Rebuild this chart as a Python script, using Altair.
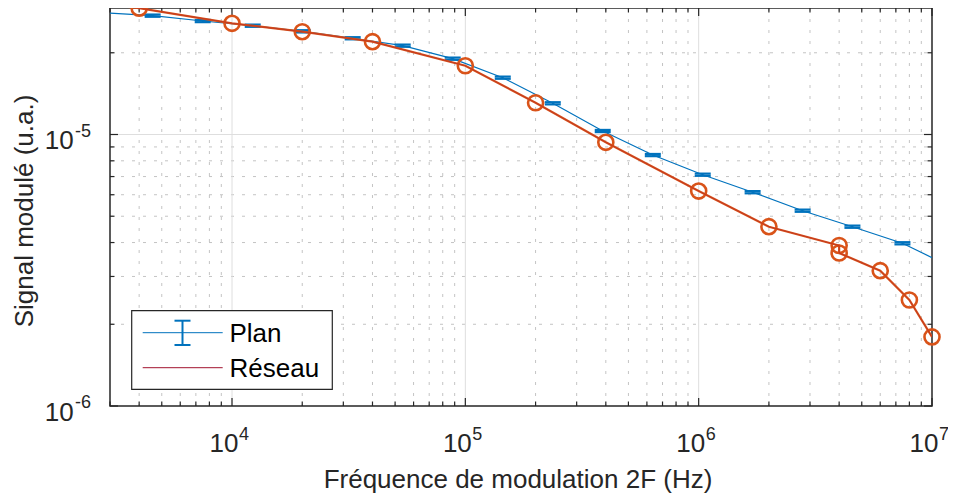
import altair as alt
import pandas as pd

# ---------------- data ----------------
plan_f = [4.57e3, 7.49e3, 1.227e4, 2.01e4, 3.29e4, 5.39e4, 8.83e4, 1.447e5,
          2.37e5, 3.88e5, 6.36e5, 1.041e6, 1.703e6, 2.79e6, 4.56e6, 7.47e6]
plan_s = [2.74e-5, 2.618e-5, 2.516e-5, 2.399e-5, 2.262e-5, 2.124e-5, 1.902e-5, 1.619e-5,
          1.303e-5, 1.030e-5, 8.40e-6, 7.11e-6, 6.13e-6, 5.24e-6, 4.575e-6, 3.975e-6]
plan_err = [2.6e-7, 2.5e-7, 2.4e-7, 2.3e-7, 2.1e-7, 2.0e-7, 1.8e-7, 1.5e-7,
            1.2e-7, 9.5e-8, 7.8e-8, 6.6e-8, 5.7e-8, 4.9e-8, 4.3e-8, 3.7e-8]
# smooth "Plan" curve (spans the whole axis)
plan_line_f = [3e3] + plan_f + [1e7]
plan_line_s = [2.80e-5] + plan_s + [3.52e-6]

reseau_f = [4e3, 1e4, 2e4, 4e4, 1e5, 2e5, 4e5, 1e6, 2e6, 4e6, 4e6, 6e6, 8e6, 1e7]
reseau_s = [2.92e-5, 2.568e-5, 2.391e-5, 2.197e-5, 1.792e-5, 1.309e-5, 9.36e-6,
            6.19e-6, 4.575e-6, 3.90e-6, 3.66e-6, 3.15e-6, 2.457e-6, 1.796e-6]
reseau_line_f = [3e3] + reseau_f
reseau_line_s = [3.0e-5] + reseau_s

x_major = [1e4, 1e5, 1e6, 1e7]
x_major_exp = ["4", "5", "6", "7"]
x_minor = [3e3, 4e3, 5e3, 6e3, 7e3, 8e3, 9e3,
           2e4, 3e4, 4e4, 5e4, 6e4, 7e4, 8e4, 9e4,
           2e5, 3e5, 4e5, 5e5, 6e5, 7e5, 8e5, 9e5,
           2e6, 3e6, 4e6, 5e6, 6e6, 7e6, 8e6, 9e6]
y_major = [1e-6, 1e-5]
y_major_exp = ["-6", "-5"]
y_minor = [2e-6, 3e-6, 4e-6, 5e-6, 6e-6, 7e-6, 8e-6, 9e-6, 2e-5]

legend_labels = ["Plan", "Réseau"]
x_title = "Fréquence de modulation 2F (Hz)"
y_title = "Signal modulé (u.a.)"

# ---------------- layout / style ----------------
W, H = 822, 398
YMAX = 10 ** (-6 + H / 271.5)
FONT = "Liberation Sans"
BLUE = "#0072BD"
ORANGE = "#D95319"
BURGUNDY = "#A2142F"
AX = "#262626"

xs = alt.Scale(type="log", domain=[3e3, 1e7], nice=False)
ys = alt.Scale(type="log", domain=[1e-6, YMAX], nice=False)


def X(field):
    return alt.X(field, type="quantitative", scale=xs, axis=None)


def Y(field):
    return alt.Y(field, type="quantitative", scale=ys, axis=None)


one = pd.DataFrame({"k": [0]})


def vrules(vals, y0, y1, **mk):
    return alt.Chart(pd.DataFrame({"f": vals})).mark_rule(**mk).encode(
        x=X("f"), y=alt.value(y0), y2=alt.value(y1))


def hrules(vals, x0, x1, **mk):
    return alt.Chart(pd.DataFrame({"s": vals})).mark_rule(**mk).encode(
        y=Y("s"), x=alt.value(x0), x2=alt.value(x1))


layers = []
# grid
minor_style = dict(color="#C4C4C4", strokeWidth=1, strokeDash=[3, 8])
major_style = dict(color="#DEDEDE", strokeWidth=1)
layers += [vrules(x_minor[1:], 0, H, **minor_style), hrules(y_minor, 0, W, **minor_style),
           vrules(x_major[:-1], 0, H, **major_style), hrules(y_major[1:], 0, W, **major_style)]

# box
layers.append(alt.Chart(one).mark_rect(fillOpacity=0, stroke=AX, strokeWidth=1.5).encode(
    x=alt.value(0), x2=alt.value(W), y=alt.value(0), y2=alt.value(H)))

# inward ticks on all four sides
tk = dict(color=AX, strokeWidth=1.2)
LMAJ, LMIN = 8, 4.5
layers += [
    vrules(x_major, H, H - LMAJ, **tk), vrules(x_minor, H, H - LMIN, **tk),
    vrules(x_major, 0, LMAJ, **tk), vrules(x_minor, 0, LMIN, **tk),
    hrules(y_major, 0, LMAJ, **tk), hrules(y_minor, 0, LMIN, **tk),
    hrules(y_major, W, W - LMAJ, **tk), hrules(y_minor, W, W - LMIN, **tk),
]

# Plan: smooth curve + error bars
plan_df = pd.DataFrame({"f": plan_f, "s": plan_s, "e": plan_err})
plan_df["lo"] = plan_df["s"] - plan_df["e"]
plan_df["hi"] = plan_df["s"] + plan_df["e"]
layers.append(alt.Chart(pd.DataFrame({"f": plan_line_f, "s": plan_line_s})).mark_line(
    color=BLUE, strokeWidth=1.2, clip=True).encode(x=X("f"), y=Y("s")))
layers.append(alt.Chart(plan_df).mark_rule(color=BLUE, strokeWidth=1.5).encode(
    x=X("f"), y=Y("lo"), y2="hi"))
for col in ["lo", "hi"]:
    layers.append(alt.Chart(plan_df).mark_tick(orient="horizontal", size=16, thickness=2.2,
                                               color=BLUE, opacity=1).encode(x=X("f"), y=Y(col)))

# Réseau: orange line with circles + thin burgundy line
rl = pd.DataFrame({"f": reseau_line_f, "s": reseau_line_s})
layers.append(alt.Chart(rl).mark_line(color=ORANGE, strokeWidth=2.2, clip=True).encode(
    x=X("f"), y=Y("s")))
layers.append(alt.Chart(pd.DataFrame({"f": reseau_f, "s": reseau_s})).mark_point(
    shape="circle", size=227, filled=False, color=ORANGE, strokeWidth=2.6, opacity=1).encode(
    x=X("f"), y=Y("s")))
layers.append(alt.Chart(rl).mark_line(color=BURGUNDY, strokeWidth=1, opacity=0.4, clip=True).encode(
    x=X("f"), y=Y("s")))

# tick labels: 10 with superscript exponent
xl = pd.DataFrame({"f": x_major, "e": x_major_exp})
layers.append(alt.Chart(xl).mark_text(align="right", baseline="alphabetic", dx=6.5, fontSize=26,
                                      font=FONT, color=AX).encode(
    x=X("f"), y=alt.value(H + 45.7), text=alt.value("10")))
layers.append(alt.Chart(xl).mark_text(align="left", baseline="alphabetic", dx=7, fontSize=18,
                                      font=FONT, color=AX).encode(
    x=X("f"), y=alt.value(H + 34), text="e:N"))
yl = pd.DataFrame({"s": y_major, "e": y_major_exp})
layers.append(alt.Chart(yl).mark_text(align="right", baseline="alphabetic", dy=14.8, fontSize=26,
                                      font=FONT, color=AX).encode(
    y=Y("s"), x=alt.value(-36.3), text=alt.value("10")))
layers.append(alt.Chart(yl).mark_text(align="left", baseline="alphabetic", dy=2.2, fontSize=18,
                                      font=FONT, color=AX).encode(
    y=Y("s"), x=alt.value(-35), text="e:N"))

# axis titles
layers.append(alt.Chart(one).mark_text(align="center", baseline="alphabetic", fontSize=26,
                                       font=FONT, color=AX).encode(
    x=alt.value(408), y=alt.value(H + 82.3), text=alt.value(x_title)))
layers.append(alt.Chart(one).mark_text(align="center", baseline="alphabetic", angle=270, fontSize=26,
                                       font=FONT, color=AX).encode(
    x=alt.value(-77.5), y=alt.value(203), text=alt.value(y_title)))

# legend
layers.append(alt.Chart(one).mark_rect(fill="white", stroke=AX, strokeWidth=1.2).encode(
    x=alt.value(21.7), x2=alt.value(222.3), y=alt.value(302.7), y2=alt.value(381.3)))
layers.append(alt.Chart(one).mark_rule(color=BLUE, strokeWidth=1).encode(
    x=alt.value(32.7), x2=alt.value(112.7), y=alt.value(324.7)))
layers.append(alt.Chart(one).mark_rule(color=BLUE, strokeWidth=2).encode(
    x=alt.value(72.5), y=alt.value(312.7), y2=alt.value(337)))
for yy in [312.7, 337]:
    layers.append(alt.Chart(one).mark_rule(color=BLUE, strokeWidth=2).encode(
        x=alt.value(64.5), x2=alt.value(80.5), y=alt.value(yy)))
layers.append(alt.Chart(one).mark_rule(color=BURGUNDY, strokeWidth=1).encode(
    x=alt.value(32.7), x2=alt.value(112.7), y=alt.value(359.7)))
for lab, yy in zip(legend_labels, [333.7, 368.7]):
    layers.append(alt.Chart(one).mark_text(align="left", baseline="alphabetic", fontSize=26,
                                           font=FONT, color="#000000").encode(
        x=alt.value(119.5), y=alt.value(yy), text=alt.value(lab)))

chart = alt.layer(*layers).properties(
    width=W, height=H,
    autosize=alt.AutoSizeParams(type="none"),
    padding={"left": 102, "top": 0, "right": 16, "bottom": 88},
    background="white",
).configure_view(stroke=None)

chart.save("out.html", embed_options={"renderer": "svg", "actions": False})
